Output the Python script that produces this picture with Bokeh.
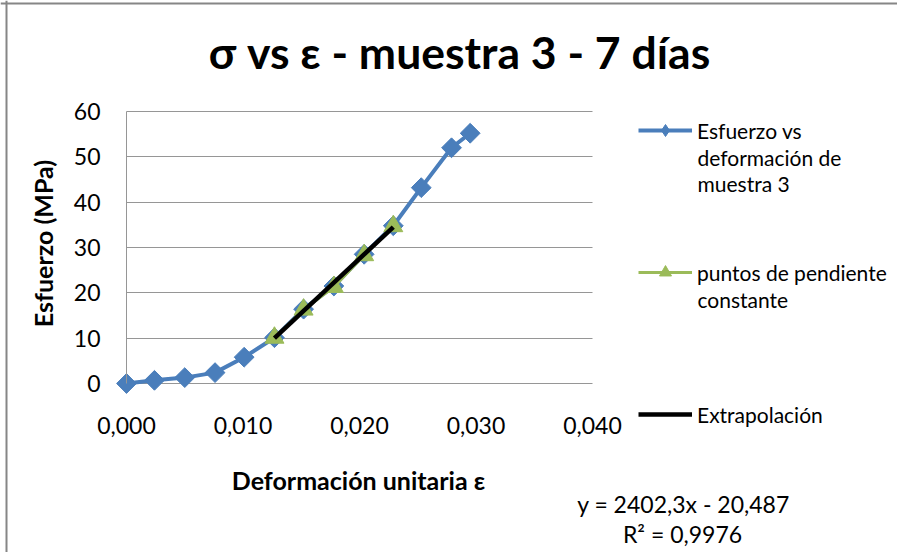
import numpy as np
from bokeh.plotting import figure
from bokeh.models import (Range1d, FixedTicker, CustomJSTickFormatter, Label, Legend,
                          LegendItem, Span)
from bokeh.embed import file_html
from bokeh.resources import INLINE

# ---- data ----
strain = [0.0, 0.0024, 0.0050, 0.0076, 0.0101, 0.0127, 0.0152, 0.0178, 0.0204, 0.0229, 0.0253, 0.0279, 0.0295]
stress = [0.0, 0.7, 1.3, 2.4, 5.8, 10.1, 16.4, 21.5, 28.5, 34.8, 43.2, 52.0, 55.2]

slope_x = [0.0127, 0.0152, 0.0178, 0.0204, 0.0229]
slope_y = [10.1, 16.3, 21.3, 28.3, 34.7]

extra_x = [0.0127, 0.0229]
extra_y = [10.0, 34.5]

x_ticks = [0.0, 0.01, 0.02, 0.03, 0.04]
y_ticks = [0, 10, 20, 30, 40, 50, 60]

title_text = "σ vs ε - muestra 3 - 7 días"
x_title = "Deformación unitaria ε"
y_title = "Esfuerzo (MPa)"
legend_labels = [["Esfuerzo vs", "deformación de", "muestra 3"],
                 ["puntos de pendiente", "constante"],
                 ["Extrapolación"]]
eq_lines = ["y = 2402,3x - 20,487", "R² = 0,9976"]

BLUE = "#4a7ebb"
GREEN = "#9bbb59"
GRID = "#969696"
FONT = "Lato"

# ---- layout (pixels) ----
W, H = 897, 552
PX_X = 466.0 / 0.04     # px per strain unit
PX_Y = 272.0 / 60.0     # px per MPa
X0_PX = 126             # pixel column of strain 0
Y0_PX = 383             # pixel row of stress 0


def sx(px):
    return px


def sy(py):
    return H - py


p = figure(width=W, height=H, output_backend="svg", toolbar_location=None, title=None,
           x_range=Range1d(-X0_PX / PX_X, (W - X0_PX) / PX_X),
           y_range=Range1d(-(H - Y0_PX) / PX_Y, Y0_PX / PX_Y),
           min_border=0)
p.outline_line_color = None
p.background_fill_color = "white"
p.border_fill_color = "white"

# axes fixed at the data origin
p.xaxis.ticker = FixedTicker(ticks=x_ticks)
p.yaxis.ticker = FixedTicker(ticks=y_ticks)
p.xaxis.formatter = CustomJSTickFormatter(code="return tick.toFixed(3).replace('.', ',');")
p.xaxis.fixed_location = 0
p.yaxis.fixed_location = 0
p.xaxis.bounds = (x_ticks[0], x_ticks[-1])
p.yaxis.bounds = (y_ticks[0], y_ticks[-1])
for ax in (p.xaxis[0], p.yaxis[0]):
    ax.major_tick_out = 0
    ax.major_tick_in = 0
    ax.minor_tick_out = 0
    ax.minor_tick_in = 0
    ax.major_label_text_font = FONT
    ax.major_label_text_font_size = "23px"
    ax.major_label_text_color = "black"
p.xaxis.axis_line_color = None
p.yaxis.axis_line_color = GRID
p.yaxis.axis_line_width = 1
p.xaxis.major_label_standoff = 33
p.yaxis.major_label_standoff = 26

p.xgrid.grid_line_color = None
p.ygrid.grid_line_color = GRID
p.ygrid.grid_line_width = 1
p.ygrid[0].cross_bounds = (x_ticks[0], x_ticks[-1])

# series
r1l = p.line(strain, stress, line_color=BLUE, line_width=4)
r1m = p.scatter(strain, stress, marker="square", angle=np.pi / 4, size=14,
                fill_color=BLUE, line_color=BLUE)
r2l = p.line(slope_x, slope_y, line_color=GREEN, line_width=3)
r2m = p.scatter(slope_x, slope_y, marker="triangle", size=19,
                fill_color=GREEN, line_color=GREEN)
r3 = p.line(extra_x, extra_y, line_color="black", line_width=4.5)

# legend-only marker (diamond shape for the key)
key1 = p.scatter(x=[np.nan], y=[np.nan], marker="diamond", size=14,
                 fill_color=BLUE, line_color=BLUE)

# legend (tuple location = bottom-left corner)
legend = Legend(items=[LegendItem(label=legend_labels[0][0], renderers=[r1l, key1]),
                       LegendItem(label=legend_labels[1][0], renderers=[r2l, r2m]),
                       LegendItem(label=legend_labels[2][0], renderers=[r3])],
                location=(sx(638), sy(429)), orientation="vertical",
                padding=0, margin=0, spacing=112,
                glyph_width=54, glyph_height=30, label_height=30, label_standoff=5,
                label_text_font=FONT, label_text_font_size="21px", label_text_color="black",
                border_line_color=None, background_fill_alpha=0)
p.add_layout(legend)


def text(txt, x, y, size, bold=False, align="left", angle=0.0):
    p.add_layout(Label(x=sx(x), y=sy(y), x_units="screen", y_units="screen", text=txt,
                       text_font=FONT, text_font_size=size,
                       text_font_style="bold" if bold else "normal",
                       text_align=align, text_baseline="middle", angle=angle,
                       text_color="black"))


# legend continuation lines
text(legend_labels[0][1], 697, 157, "21px")
text(legend_labels[0][2], 697, 183, "21px")
text(legend_labels[1][1], 697, 299, "21px")

# title and axis titles
text(title_text, 459, 51, "44.5px", bold=True, align="center")
text(x_title, 358, 479, "25px", bold=True, align="center")
text(y_title, 42, 243, "25px", bold=True, align="center", angle=np.pi / 2)

# trendline equation
text(eq_lines[0], 683, 503, "23px", align="center")
text(eq_lines[1], 682, 533, "23px", align="center")

# chart border (left and top edges visible)
p.add_layout(Span(location=sx(6), location_units="screen", dimension="height",
                  line_color="#868686", line_width=2))
p.add_layout(Span(location=sy(3), location_units="screen", dimension="width",
                  line_color="#868686", line_width=2))

open("out.html", "w").write(file_html(p, INLINE))
